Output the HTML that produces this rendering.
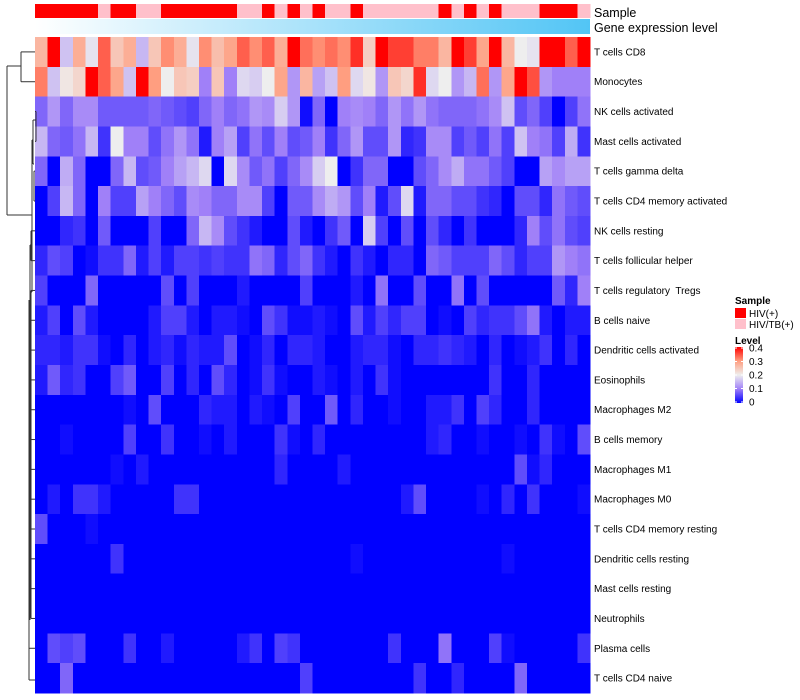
<!DOCTYPE html>
<html><head><meta charset="utf-8"><style>
body{margin:0;background:#fff;font-family:"Liberation Sans",sans-serif;}
svg{display:block}
</style></head><body>
<svg id="chart" width="800" height="700" xmlns="http://www.w3.org/2000/svg"></svg>
<script>
const rowNames=["T cells CD8","Monocytes","NK cells activated","Mast cells activated","T cells gamma delta","T cells CD4 memory activated","NK cells resting","T cells follicular helper","T cells regulatory  Tregs","B cells naive","Dendritic cells activated","Eosinophils","Macrophages M2","B cells memory","Macrophages M1","Macrophages M0","T cells CD4 memory resting","Dendritic cells resting","Mast cells resting","Neutrophils","Plasma cells","T cells CD4 naive"];
const sampleGroups="HHHHHTHHTTHHHHHHTTHTHTHTTHTTTTTTHTHTHTTTHHHT".split("");
const rowCD8=[.27,.4,.16,.28,.19,.34,.25,.28,.15,.25,.31,.28,.19,.31,.26,.29,.34,.31,.34,.28,.4,.33,.31,.33,.31,.37,.24,.4,.36,.36,.32,.32,.27,.4,.36,.29,.4,.27,.2,.19,.4,.4,.34,.4];
const rowMono=[.32,.16,.21,.23,.4,.34,.29,.16,.4,.3,.2,.25,.24,.1,.25,.1,.18,.17,.2,.29,.12,.27,.13,.16,.3,.18,.21,.12,.25,.23,.37,.18,.2,.12,.15,.33,.12,.29,.4,.35,.12,.1,.1,.1];
const rowNKact=[.08,.12,.08,.11,.11,.07,.07,.07,.07,.08,.07,.06,.05,.08,.1,.08,.09,.12,.11,.17,.12,.01,.08,0,.1,.11,.1,.08,.12,.09,.12,.09,.08,.08,.08,.09,.11,.16,.06,.08,.05,0,.05,.09];
const rowMastAct=[.15,.08,.07,.09,.15,.04,.2,.1,.1,.06,.09,.12,.09,.02,.1,.13,.05,.09,.06,.1,.06,.07,.1,.04,.08,.12,.06,.06,.12,.03,.04,.11,.11,.05,.07,.05,.09,.05,.16,.1,.09,.05,.14,.04];
const rowGD=[.08,0,.14,.08,0,0,.08,.15,.06,.07,.1,.13,.15,.18,0,.18,.11,.07,.09,.05,.08,.11,.17,.2,0,.04,.08,.08,0,0,.06,.08,.11,.14,.09,.09,.07,.05,0,0,.13,.11,.13,.13];
const rowCD4MA=[0,.05,.15,.08,0,.1,.05,.05,.13,.1,.08,.06,.11,.1,.08,.08,.11,.11,.05,0,.07,.07,.11,.14,.12,.06,.1,.02,.06,.18,.02,.08,.08,.06,.06,.04,.03,0,.06,.06,.03,.09,.07,.06];
const rowNKrest=[0,0,.03,.04,0,.07,0,0,0,.05,0,0,.08,.15,.11,.06,.04,.02,0,0,.06,.02,0,.04,.07,0,.17,.05,0,.06,0,.06,.03,0,.04,0,0,0,.03,.1,.06,.09,.06,.05];
const rowTfh=[.03,.06,.05,0,.01,.04,.04,.08,.02,.05,.02,.05,.05,.04,.05,.04,.04,.09,.08,.03,.06,.08,.04,.02,0,.04,.02,0,.03,.03,0,.08,.07,.05,.05,.05,.08,.06,.03,.05,.05,.12,.1,.09];
const rowTreg=[.05,0,0,0,.08,0,0,0,0,0,.06,0,.05,0,0,0,.02,0,0,0,0,.05,0,0,0,.02,0,.09,0,0,.06,0,0,.09,0,.06,0,0,0,0,0,.07,.03,.1];
const rowBnaive=[.02,.05,0,.06,.02,0,0,0,0,.02,.05,.05,.02,0,.02,.02,.01,0,.06,.04,.01,.01,.02,.01,0,.06,.02,.05,.03,.05,.05,0,.01,0,.05,.03,.04,.04,.06,.09,.02,0,.02,.02];
const rowDCact=[.03,.03,.02,.04,.04,.01,0,.03,0,.02,.03,.01,.03,.02,.02,.06,0,.01,.03,0,.03,.03,.02,0,0,.02,.03,.03,.01,0,.03,.03,.04,.03,.02,0,.03,0,.01,.02,.04,0,.03,0];
const rowEos=[.02,.07,.03,.04,0,0,.05,.07,0,0,.05,0,.03,0,.06,.03,0,.01,.04,.01,0,0,.02,.01,0,.02,0,.04,.01,0,0,0,0,0,0,0,.04,0,0,.03,0,0,0,0];
const rowM2=[0,0,0,0,0,0,0,.01,0,.06,0,0,0,.03,.02,.02,0,.02,.01,0,.05,0,0,.07,0,.03,0,0,.01,0,0,.02,.02,.04,0,.05,.03,0,0,.03,0,0,0,0];
const rowBmem=[0,0,.01,0,0,0,0,.05,0,0,.04,0,0,.01,0,.02,0,0,0,.04,.01,0,.03,0,0,0,0,0,0,0,0,.02,.03,0,0,.01,0,0,.01,0,.04,.01,0,.06];
const rowM1=[0,0,0,0,0,0,.01,0,.02,0,0,0,0,0,0,0,0,0,0,.03,0,0,0,0,.02,0,0,0,0,0,0,0,0,0,0,0,0,0,.06,.01,.03,0,0,0];
const rowM0=[0,.02,0,.04,.04,.02,0,0,0,0,0,.04,.04,0,0,0,0,0,0,0,0,0,0,0,0,0,0,0,0,.02,.06,0,0,0,0,.01,0,.03,0,.04,0,0,0,.01];
const rowCD4MR=[.06,0,0,0,.01,0,0,0,0,0,0,0,0,0,0,0,0,0,0,0,0,0,0,0,0,0,0,0,0,0,0,0,0,0,0,0,0,0,0,0,0,0,0,0];
const rowDCrest=[0,0,0,0,0,0,.04,0,0,0,0,0,0,0,0,0,0,0,0,0,0,0,0,0,0,.01,0,0,0,0,0,0,0,0,0,0,0,.01,0,0,0,0,0,0];
const rowMastRest=[0,0,0,0,0,0,0,0,0,0,0,0,0,0,0,0,0,0,0,0,0,0,0,0,0,0,0,0,0,0,0,0,0,0,0,0,0,0,0,0,0,0,0,0];
const rowNeut=[0,0,0,0,0,0,0,0,0,0,0,0,0,0,0,0,0,0,0,0,0,0,0,0,0,0,0,0,0,0,0,0,0,0,0,0,0,0,0,0,0,0,0,0];
const rowPlasma=[0,.06,.05,.06,0,0,0,.04,0,0,.02,0,0,0,0,0,.02,.04,0,.05,.04,0,0,0,0,0,0,0,.04,0,0,0,.09,0,0,0,.05,.01,0,0,0,0,0,.04];
const rowCD4naive=[0,0,.08,0,0,0,0,0,0,0,0,0,0,0,0,0,0,0,0,0,0,.05,0,0,0,0,0,0,0,0,.04,0,0,.03,0,0,0,0,.08,0,0,0,0,0];
const values=[rowCD8,rowMono,rowNKact,rowMastAct,rowGD,rowCD4MA,rowNKrest,rowTfh,rowTreg,rowBnaive,rowDCact,rowEos,rowM2,rowBmem,rowM1,rowM0,rowCD4MR,rowDCrest,rowMastRest,rowNeut,rowPlasma,rowCD4naive];
const legendTicks=[0,0.1,0.2,0.3,0.4];

const NS="http://www.w3.org/2000/svg";
const svg=document.getElementById("chart");
function mk(tag,attrs,parent){const e=document.createElementNS(NS,tag);for(const k in attrs)e.setAttribute(k,attrs[k]);(parent||svg).appendChild(e);return e;}
const X0=35,X1=590,Y0=37,Y1=693;
const nCol=sampleGroups.length,nRow=rowNames.length;
const cw=(X1-X0)/nCol,rh=(Y1-Y0)/nRow;
const xPos=i=>X0+i*cw, yPos=j=>Y0+j*rh;
const stops=[[0,[0,0,255]],[0.1,[160,128,248]],[0.2,[238,238,238]],[0.3,[255,158,128]],[0.4,[255,0,0]]];
function color(v){v=Math.max(0,Math.min(0.4,v));for(let i=1;i<stops.length;i++){if(v<=stops[i][0]){const a=stops[i-1],b=stops[i];const t=(v-a[0])/(b[0]-a[0]);const c=a[1].map((x,k)=>Math.round(x+(b[1][k]-x)*t));return `rgb(${c})`;}}return "red";}

const annG=mk("g",{"shape-rendering":"crispEdges"});


sampleGroups.forEach((g,i)=>{const r=mk("rect",{x:xPos(i),y:4,width:cw+0.5,height:14,fill:g==="H"?"#ff0000":"#ffc0cb"},annG);

});
const defs=mk("defs",{});
const lg=mk("linearGradient",{id:"gexp",x1:"0",x2:"1",y1:"0",y2:"0"},defs);
mk("stop",{offset:"0","stop-color":"#ffffff"},lg);mk("stop",{offset:"1","stop-color":"#52c5f5"},lg);
const gbar=mk("rect",{x:X0,y:19,width:X1-X0,height:15,fill:"url(#gexp)"});


const t1=mk("text",{x:594,y:17,"font-size":"12.5",fill:"#000"});t1.textContent="Sample";


const t2=mk("text",{x:594,y:32,"font-size":"12.5",fill:"#000"});t2.textContent="Gene expression level";



const cellsG=mk("g",{"shape-rendering":"crispEdges"});


values.forEach((row,j)=>{row.forEach((v,i)=>{const r=mk("rect",{x:xPos(i),y:yPos(j),width:cw+0.6,height:rh+0.6,fill:color(v)},cellsG);

});
const t=mk("text",{x:594,y:yPos(j)+rh/2+3.5,"font-size":"10",fill:"#000"});
t.setAttributeNS("http://www.w3.org/XML/1998/namespace","xml:space","preserve");
t.style.whiteSpace="pre";
t.textContent=rowNames[j];

});

const dg=mk("g",{stroke:"#333","stroke-width":"1",fill:"none"});


const cy=j=>yPos(j)+rh/2;
const segs=[
[7,66,7,215],[7,66,21,66],[7,215,32,215],
[21,cy(0),21,cy(1)],[21,cy(0),35,cy(0)],[21,cy(1),35,cy(1)],
[32,140,32,292],[32,140,33,140],[32,292,30,292],
[33,120,33,164],[33,120,36,120],[33,164,34,164],
[36,cy(2),36,cy(3)],[36,cy(2),35,cy(2)],[36,cy(3),35,cy(3)],
[34,cy(4),34,cy(5)],[34,cy(4),35,cy(4)],[34,cy(5),35,cy(5)],
[30,245,30,620],[30,245,31,245],
[31,cy(6),31,cy(7)],[31,cy(6),35,cy(6)],[31,cy(7),35,cy(7)],
[29,300,29,680],[29,680,35,680],[29,cy(20),35,cy(20)]
];
for(let j=8;j<20;j++)segs.push([31,cy(j),35,cy(j)]);
segs.push([31,cy(8),31,cy(19)]);
segs.forEach(s=>{const l=mk("line",{x1:s[0],y1:s[1],x2:s[2],y2:s[3]},dg);

});

const lgG=mk("g",{});


const s1=mk("text",{x:735,y:304,"font-size":"10","font-weight":"bold"},lgG);s1.textContent="Sample";


const b1=mk("rect",{x:735,y:308,width:11,height:10,fill:"#ff0000"},lgG);


const b2=mk("rect",{x:735,y:319,width:11,height:10,fill:"#ffc0cb"},lgG);


const l1=mk("text",{x:749,y:317,"font-size":"10"},lgG);l1.textContent="HIV(+)";


const l2=mk("text",{x:749,y:328,"font-size":"10"},lgG);l2.textContent="HIV/TB(+)";


const s2=mk("text",{x:735,y:344,"font-size":"10","font-weight":"bold"},lgG);s2.textContent="Level";


const lg2=mk("linearGradient",{id:"lvl",x1:"0",x2:"0",y1:"1",y2:"0"},defs);
stops.forEach(s=>mk("stop",{offset:s[0]/0.4,"stop-color":`rgb(${s[1]})`},lg2));
const cb=mk("rect",{x:735,y:347,width:8,height:56,fill:"url(#lvl)"},lgG);


legendTicks.forEach(v=>{const y=402-(v/0.4)*54;
const t=mk("text",{x:749,y:y+3.5,"font-size":"10"},lgG);t.textContent=String(v);


mk("line",{x1:735,x2:737,y1:y,y2:y,stroke:"#fff"},lgG);mk("line",{x1:741,x2:743,y1:y,y2:y,stroke:"#fff"},lgG);});
</script>
</body></html>
